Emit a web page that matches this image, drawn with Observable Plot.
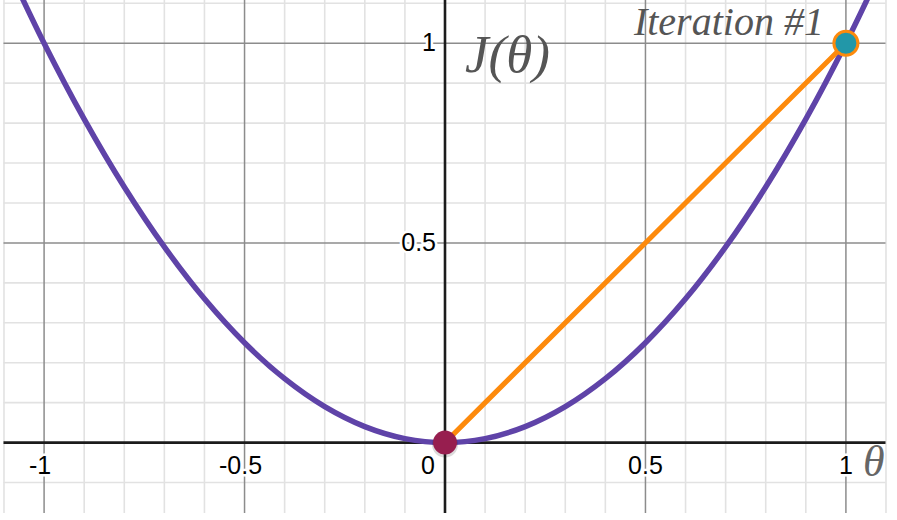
<!DOCTYPE html>
<html>
<head>
<meta charset="utf-8">
<script src="https://cdn.jsdelivr.net/npm/d3@7"></script>
<script src="https://cdn.jsdelivr.net/npm/@observablehq/plot@0.6"></script>
<style>
  html, body { margin: 0; padding: 0; background: #fff; }
  #chart svg { display: block; }
</style>
</head>
<body>
<div id="chart"></div>
<script>
// Curve J(theta)
const thetaValues = [-1.1, -1.0, -0.9, -0.8, -0.7, -0.6, -0.5, -0.4, -0.3, -0.2, -0.1, 0, 0.1, 0.2, 0.3, 0.4, 0.5, 0.6, 0.7, 0.8, 0.9, 1.0, 1.1];
const costValues  = [1.21, 1.0, 0.81, 0.64, 0.49, 0.36, 0.25, 0.16, 0.09, 0.04, 0.01, 0, 0.01, 0.04, 0.09, 0.16, 0.25, 0.36, 0.49, 0.64, 0.81, 1.0, 1.21];

// Gradient-descent step (orange segment) and its endpoints
const stepTheta = [0, 1];
const stepCost  = [0, 1];
const startPoint = [{theta: 0, cost: 0}];
const iterPoint  = [{theta: 1, cost: 1}];

// Grid and tick labels
const xMinorTicks = [-1.1, -0.9, -0.8, -0.7, -0.6, -0.4, -0.3, -0.2, -0.1, 0.1, 0.2, 0.3, 0.4, 0.6, 0.7, 0.8, 0.9, 1.1];
const xMajorTicks = [-1, -0.5, 0.5, 1];
const yMinorTicks = [-0.1, 0.1, 0.2, 0.3, 0.4, 0.6, 0.7, 0.8, 0.9, 1.1];
const yMajorTicks = [0.5, 1];
const xNegLabels = [-1, -0.5];
const xPosLabels = [0.5, 1];
const yLabels = [0.5, 1];

// Annotations
const iterationLabel = "Iteration #1";
const yAxisTitle = "J(θ)";
const xAxisTitle = "θ";

const curve = thetaValues.map((t, i) => ({theta: t, cost: costValues[i]}));
const step = stepTheta.map((t, i) => ({theta: t, cost: stepCost[i]}));

const labelFont = "'Liberation Sans', Arial, sans-serif";
const serifFont = "'Liberation Serif', 'Times New Roman', serif";

const chart = Plot.plot({
  width: 897,
  height: 520,
  marginLeft: 3.5,
  marginRight: 11.5,
  marginTop: 0,
  marginBottom: 7,
  x: {domain: [-1.1, 1.1], axis: null},
  y: {domain: [-0.1775, 1.107], axis: null},
  marks: [
    Plot.ruleX(xMinorTicks, {stroke: "#e2e2e2", strokeWidth: 1.6}),
    Plot.ruleY(yMinorTicks, {stroke: "#e2e2e2", strokeWidth: 1.6}),
    Plot.ruleX(xMajorTicks, {stroke: "#8c8c8c", strokeWidth: 1.5}),
    Plot.ruleY(yMajorTicks, {stroke: "#8c8c8c", strokeWidth: 1.5}),
    Plot.ruleX([0], {stroke: "#1c1c1c", strokeWidth: 2.6}),
    Plot.ruleY([0], {stroke: "#1c1c1c", strokeWidth: 2.6}),
    // x tick labels
    Plot.text(xNegLabels, {x: d => d, y: 0, text: d => String(d), dx: -4, dy: 31, lineAnchor: "bottom",
      fontSize: 25, fontFamily: labelFont, fill: "#000", stroke: "white", strokeWidth: 5}),
    Plot.text(xPosLabels, {x: d => d, y: 0, text: d => String(d), dy: 31, lineAnchor: "bottom",
      fontSize: 25, fontFamily: labelFont, fill: "#000", stroke: "white", strokeWidth: 5}),
    Plot.text([0], {x: d => d, y: 0, text: d => String(d), dx: -10, dy: 31, lineAnchor: "bottom", textAnchor: "end",
      fontSize: 25, fontFamily: labelFont, fill: "#000", stroke: "white", strokeWidth: 5}),
    // y tick labels
    Plot.text(yLabels, {x: 0, y: d => d, text: d => String(d), dx: -9, textAnchor: "end",
      fontSize: 25, fontFamily: labelFont, fill: "#000", stroke: "white", strokeWidth: 5}),
    // axis titles
    Plot.text([yAxisTitle], {x: 0, y: 1, text: d => d, dx: 20, dy: 29, lineAnchor: "bottom", textAnchor: "start",
      fontSize: 53, fontStyle: "italic", fontFamily: serifFont, fill: "#555"}),
    Plot.text([xAxisTitle], {x: 1, y: 0, text: d => d, dx: 17, dy: 33, lineAnchor: "bottom", textAnchor: "start",
      fontSize: 44, fontStyle: "italic", fontFamily: serifFont, fill: "#666"}),
    // the cost curve
    Plot.line(curve, {x: "theta", y: "cost", curve: "catmull-rom", stroke: "#5f43a8", strokeWidth: 5.5, clip: true}),
    // the step
    Plot.line(step, {x: "theta", y: "cost", stroke: "#fd8a0c", strokeWidth: 5}),
    // iteration label
    Plot.text([iterationLabel], {x: 1, y: 1, text: d => d, dx: -22, dy: -8, lineAnchor: "bottom", textAnchor: "end",
      fontSize: 40, fontStyle: "italic", fontFamily: serifFont, fill: "#555"}),
    // points
    Plot.dot(startPoint, {x: "theta", y: "cost", r: 13, fill: "#000", fillOpacity: 0.14, dy: 2}),
    Plot.dot(startPoint, {x: "theta", y: "cost", r: 12, fill: "#971e4f", stroke: "none"}),
    Plot.dot(iterPoint, {x: "theta", y: "cost", r: 12, fill: "#2297a8", stroke: "#fd8a0c", strokeWidth: 3})
  ]
});

document.getElementById("chart").appendChild(chart);
</script>
</body>
</html>
